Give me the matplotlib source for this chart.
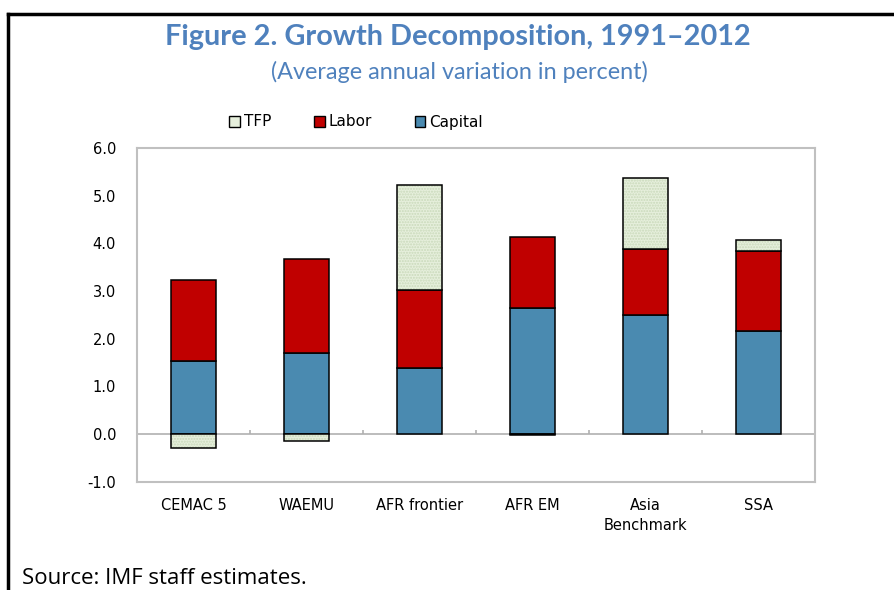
import matplotlib
matplotlib.use("Agg")
import matplotlib.pyplot as plt
from matplotlib.patches import Patch
from matplotlib.lines import Line2D
import numpy as np

categories = ["CEMAC 5", "WAEMU", "AFR frontier", "AFR EM", "Asia\nBenchmark", "SSA"]
capital = [1.52, 1.70, 1.38, 2.65, 2.50, 2.15]
labor = [1.71, 1.97, 1.64, 1.48, 1.38, 1.68]
tfp = [-0.30, -0.14, 2.21, -0.02, 1.48, 0.24]
yticks = [-1.0, 0.0, 1.0, 2.0, 3.0, 4.0, 5.0, 6.0]

c_cap = "#4a8ab0"
c_lab = "#c00000"
c_tfp = "#e6efdc"
title_col = "#4f81bd"
grey = "#c0c0c0"

W, H = 895, 590
fig = plt.figure(figsize=(W / 100, H / 100), dpi=100)
ax = fig.add_axes([137 / W, 1 - 481.5 / H, 678 / W, 333.5 / H])

x = np.arange(len(categories))
cap = np.array(capital)
lab = np.array(labor)
tf = np.array(tfp)
bw = 0.4

ax.bar(x, cap, bw, color=c_cap, edgecolor="black", linewidth=1.1, zorder=3)
ax.bar(x, lab, bw, bottom=cap, color=c_lab, edgecolor="black", linewidth=1.1, zorder=3)
tbottom = np.where(tf >= 0, cap + lab, 0.0)
ax.bar(x, tf, bw, bottom=tbottom, color=c_tfp, edgecolor="#c9d9ba", hatch="......",
       linewidth=0, zorder=3)
ax.bar(x, tf, bw, bottom=tbottom, fill=False, edgecolor="black", linewidth=1.1, zorder=4)

ax.set_xlim(-0.5, len(categories) - 0.5)
ax.set_ylim(-1.0, 6.0)
ax.set_yticks(yticks)
ax.set_yticklabels([f"{v:.1f}" for v in yticks])
ax.set_xticks(x)
ax.set_xticklabels(categories, linespacing=1.4)
ax.tick_params(axis="both", length=0, labelsize=10.5, colors="black")
ax.tick_params(axis="y", pad=15)
ax.tick_params(axis="x", pad=12)

for s in ax.spines.values():
    s.set_color(grey)
    s.set_linewidth(1.5)
ax.axhline(0, color="#b0b0b0", linewidth=1.2, zorder=2)
bounds = np.arange(0.5, len(categories) - 0.5, 1.0)
ax.vlines(bounds, 0, 0.09, color="#b0b0b0", linewidth=1.2, zorder=2)

fig.text(458 / W, 1 - 37 / H, "Figure 2. Growth Decomposition, 1991\u20132012",
         ha="center", va="center", fontsize=20.8, fontweight="bold",
         color=title_col, family="Lato")
fig.text(459 / W, 1 - 72 / H, "(Average annual variation in percent)",
         ha="center", va="center", fontsize=16.8, color=title_col, family="Lato")

handles = [Patch(facecolor=c_tfp, edgecolor="black", linewidth=1.0),
           Patch(facecolor=c_lab, edgecolor="black", linewidth=1.0),
           Patch(facecolor=c_cap, edgecolor="black", linewidth=1.0)]
fig.legend(handles, ["TFP", "Labor", "Capital"], loc="center",
           bbox_to_anchor=(356 / W, 1 - 122 / H), ncol=3, frameon=False,
           fontsize=11, handlelength=0.7, handleheight=0.7,
           handletextpad=0.25, columnspacing=2.8)

fig.text(22 / W, 0.5 / H, "Source: IMF staff estimates.", ha="left",
         va="bottom", fontsize=16, color="black", family="Open Sans")

fig.add_artist(Line2D([8 / W, 8 / W], [0, 1 - 14 / H], color="black",
                      linewidth=2.5, transform=fig.transFigure))
fig.add_artist(Line2D([8 / W, 1], [1 - 14 / H, 1 - 14 / H], color="black",
                      linewidth=2.5, transform=fig.transFigure))

fig.savefig("out.png", dpi=100)
